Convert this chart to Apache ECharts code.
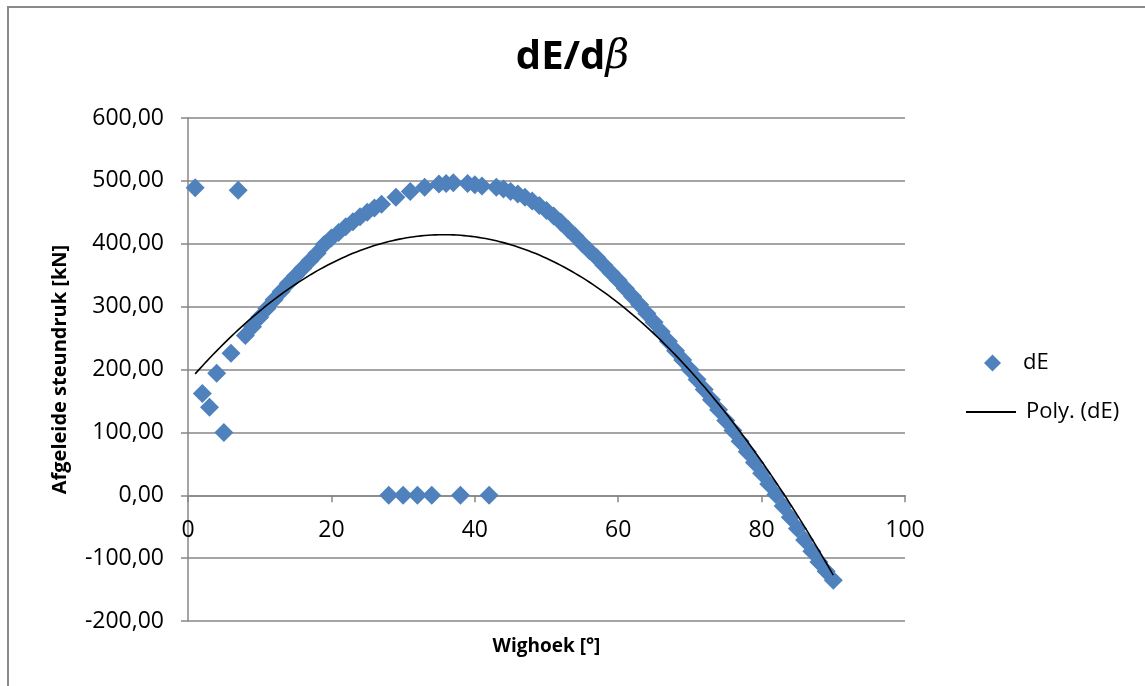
<!DOCTYPE html>
<html>
<head>
<meta charset="utf-8">
<script src="https://cdn.jsdelivr.net/npm/echarts@6/dist/echarts.min.js"></script>
<style>
html,body{margin:0;padding:0;background:#fff;}
#chart{width:1145px;height:686px;}
</style>
</head>
<body>
<div id="chart"></div>
<script>
// ---- Data ----
var dEx = [1,2,3,4,5,6,7,8,9,10,11,12,13,14,15,16,17,18,19,20,
  21,22,23,24,25,26,27,28,29,30,31,32,33,34,35,36,37,38,39,40,
  41,42,43,44,45,46,47,48,49,50,51,52,53,54,55,56,57,58,59,60,
  61,62,63,64,65,66,67,68,69,70,71,72,73,74,75,76,77,78,79,80,
  81,82,83,84,85,86,87,88,89,90];
var dEy = [489,162,140,194,100,226,485,254,268,283,297,311,324,337,349,361,373,385,399,409,
  418,427,435,443,450,457,463,0,474,0,483,0,490,0,495,496,497,0,496,494,
  492,0,490,487,483,479,474,468,461,453,444,434,423,412,400,389,378,366,354,342,
  329,316,303,289,275,260,245,230,215,200,184,168,152,136,119,103,86,69,52,35,
  18,1,-17,-35,-53,-71,-89,-106,-121,-135];
var xTicks = [0,20,40,60,80,100];
var yTicks = [-200,-100,0,100,200,300,400,500,600];

// ---- Polynomial (order 2) trendline: least squares fit of the data ----
function polyfit2(xs, ys) {
  var S = [0,0,0,0,0], T = [0,0,0];
  for (var i = 0; i < xs.length; i++) {
    var x = xs[i], y = ys[i], p = 1;
    for (var k = 0; k < 5; k++) { S[k] += p; if (k < 3) T[k] += p * y; p *= x; }
  }
  var A = [[S[0],S[1],S[2],T[0]],[S[1],S[2],S[3],T[1]],[S[2],S[3],S[4],T[2]]];
  for (var c = 0; c < 3; c++) {
    for (var r = c + 1; r < 3; r++) {
      var f = A[r][c] / A[c][c];
      for (var j = c; j < 4; j++) A[r][j] -= f * A[c][j];
    }
  }
  var sol = [0,0,0];
  for (var r2 = 2; r2 >= 0; r2--) {
    var s = A[r2][3];
    for (var j2 = r2 + 1; j2 < 3; j2++) s -= A[r2][j2] * sol[j2];
    sol[r2] = s / A[r2][r2];
  }
  return sol;
}
var coef = polyfit2(dEx, dEy);
var xMin = Math.min.apply(null, dEx), xMax = Math.max.apply(null, dEx);
var trend = [];
for (var t = xMin; t <= xMax + 1e-9; t += 0.5) {
  trend.push([t, coef[0] + coef[1] * t + coef[2] * t * t]);
}
var scatterData = dEx.map(function (x, i) { return [x, dEy[i]]; });

// layout
var W = 1145, H = 686;
var GRID = {left: 188, right: 240, top: 118, bottom: 65};
var plotH = H - GRID.top - GRID.bottom;
var yMin = yTicks[0], yMax = yTicks[yTicks.length - 1];
// the horizontal axis crosses the vertical axis at value 0
var xAxisOffset = -((0 - yMin) / (yMax - yMin)) * plotH;

var FONT = 'Open Sans';
var GRAY = '#878787';
var chart = echarts.init(document.getElementById('chart'), null, {renderer: 'canvas'});
chart.setOption({
  animation: false,
  backgroundColor: '#fff',
  graphic: [{
    type: 'rect', shape: {x: 8, y: 7, width: 1170, height: 720},
    style: {fill: 'none', stroke: '#8a8a8a', lineWidth: 2}, silent: true
  }],
  title: {
    text: '{a|dE/d}{b|β}',
    left: 'center', top: 32,
    textStyle: {
      rich: {
        a: {fontFamily: FONT, fontWeight: 'bold', fontSize: 40, color: '#000'},
        b: {fontFamily: 'DejaVu Serif', fontStyle: 'italic', fontWeight: 'normal', fontSize: 41, color: '#000'}
      }
    }
  },
  legend: [{
    data: [{name: 'dE', icon: 'diamond'}],
    orient: 'vertical', left: 984, top: 352, padding: 0,
    itemWidth: 17, itemHeight: 17,
    textStyle: {fontFamily: FONT, fontSize: 22, color: '#000', padding: [0, 0, 0, 17]}
  }, {
    data: [{name: 'Poly. (dE)', icon: 'rect', itemStyle: {color: '#000'}}],
    orient: 'vertical', left: 966, top: 401, padding: 0,
    itemWidth: 50, itemHeight: 2,
    textStyle: {fontFamily: FONT, fontSize: 22, color: '#000', padding: [0, 0, 0, 5]}
  }],
  grid: {left: GRID.left, right: GRID.right, top: GRID.top, bottom: GRID.bottom,
         containLabel: false, outerBoundsMode: 'none'},
  xAxis: {
    type: 'value', min: xTicks[0], max: xTicks[xTicks.length - 1], interval: 20,
    position: 'bottom', offset: xAxisOffset,
    name: 'Wighoek [°]', nameLocation: 'middle', nameGap: 142,
    nameTextStyle: {fontFamily: FONT, fontWeight: 'bold', fontSize: 19, color: '#000'},
    axisLine: {show: true, onZero: false, lineStyle: {color: GRAY, width: 1.5}},
    axisTick: {show: true, length: 7, lineStyle: {color: GRAY, width: 1.5}},
    axisLabel: {fontFamily: FONT, fontSize: 23, color: '#000', margin: 24},
    splitLine: {show: false}
  },
  yAxis: {
    type: 'value', min: yMin, max: yMax, interval: 100,
    name: 'Afgeleide steundruk [kN]', nameLocation: 'middle', nameGap: 118,
    nameTextStyle: {fontFamily: FONT, fontWeight: 'bold', fontSize: 20, color: '#000'},
    axisLine: {show: true, lineStyle: {color: GRAY, width: 1.5}},
    axisTick: {show: true, length: 7, lineStyle: {color: GRAY, width: 1.5}},
    axisLabel: {
      fontFamily: FONT, fontSize: 23, color: '#000', margin: 24,
      formatter: function (v) { return v.toFixed(2).replace('.', ','); }
    },
    splitLine: {show: true, lineStyle: {color: GRAY, width: 1.5}}
  },
  series: [{
    name: 'dE', type: 'scatter', data: scatterData,
    symbol: 'diamond', symbolSize: 19,
    itemStyle: {color: '#4F81BD', opacity: 1}
  }, {
    name: 'Poly. (dE)', type: 'line', data: trend,
    symbol: 'none', smooth: false,
    lineStyle: {color: '#000', width: 1.6}, z: 3
  }]
});
</script>
</body>
</html>
